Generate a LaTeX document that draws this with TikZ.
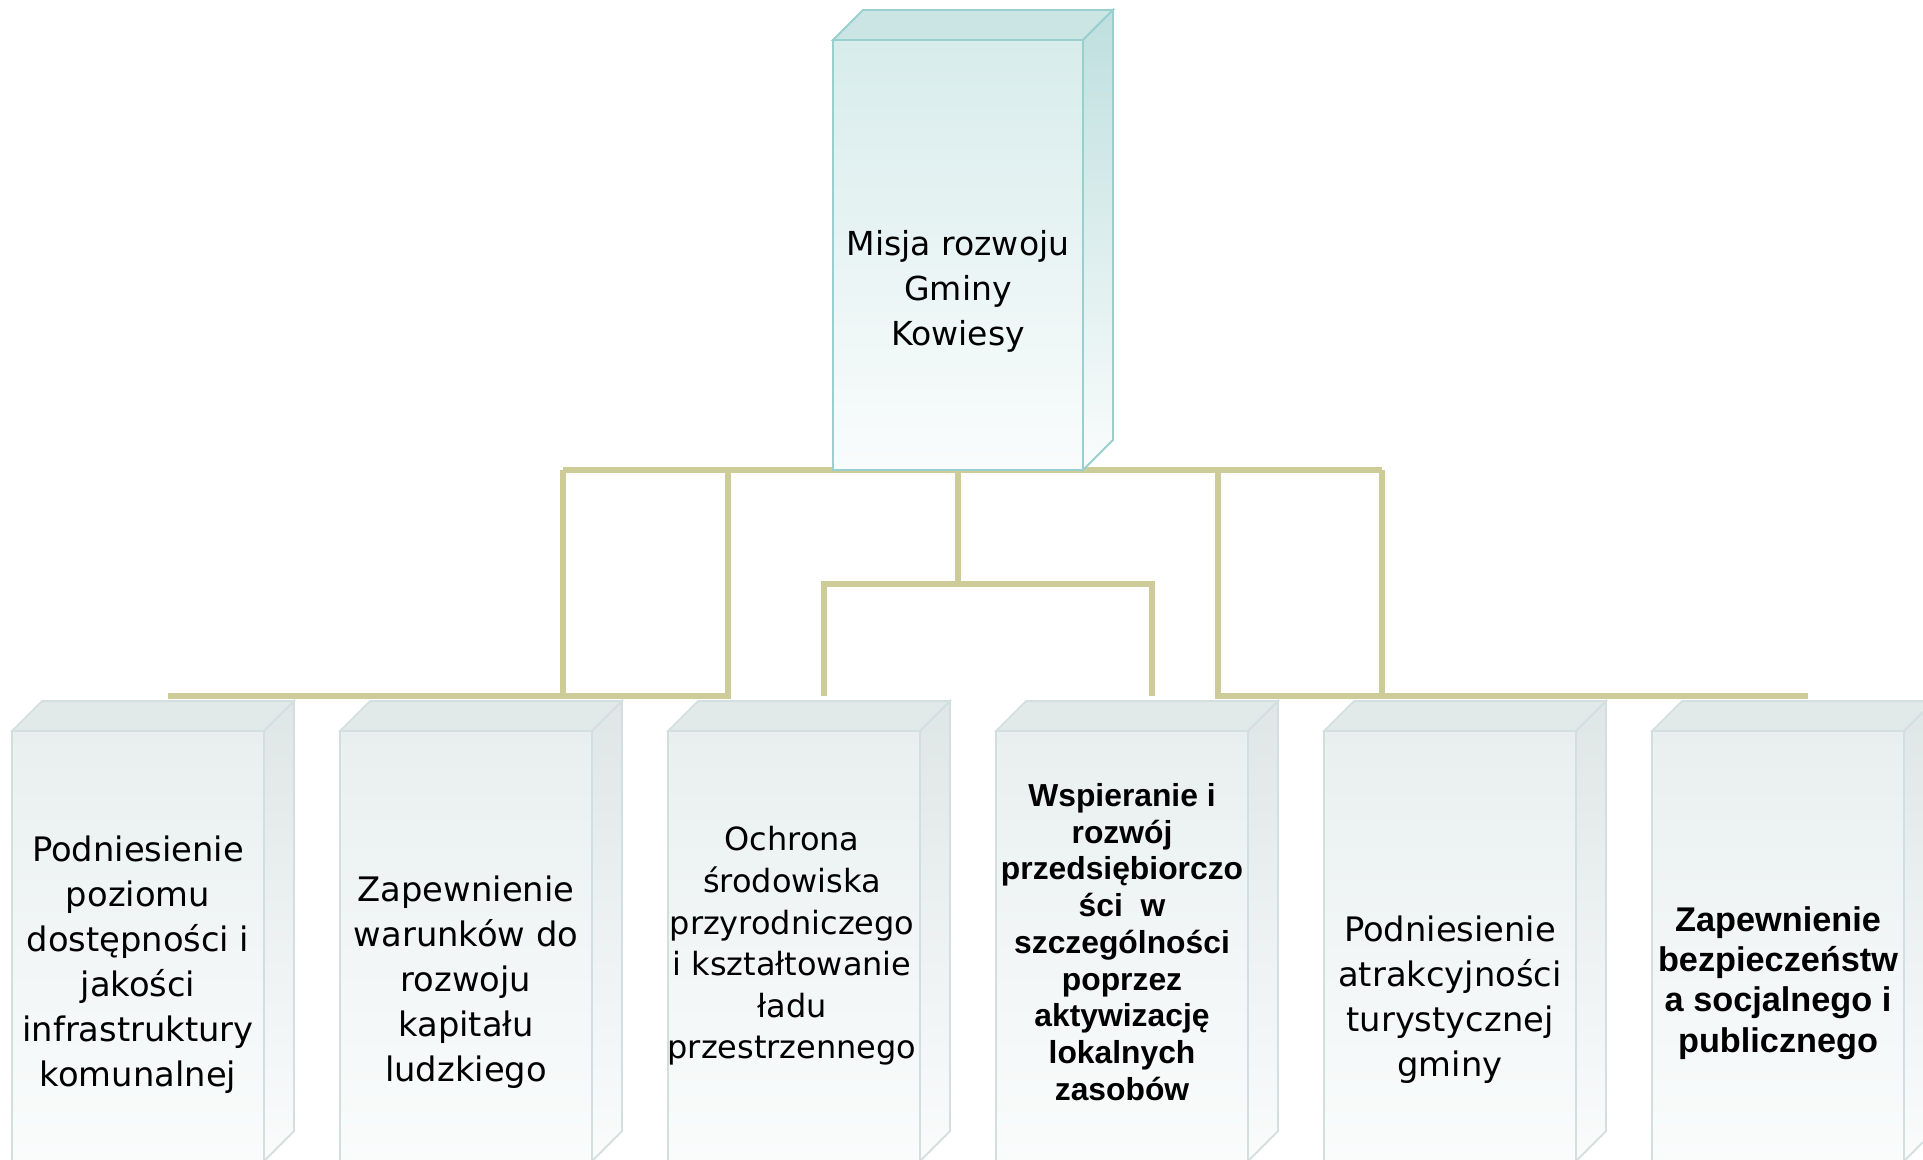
\documentclass[tikz,border=0pt]{standalone}
\usepackage{fontspec}
\setmainfont{DejaVu Sans}
\newfontfamily\arialfont{Liberation Sans}
\usetikzlibrary{positioning,calc,backgrounds}

\definecolor{busline}{RGB}{205,204,153}
\definecolor{misjaedge}{RGB}{154,207,207}
\definecolor{misjatop}{RGB}{203,229,229}
\definecolor{misjaside}{RGB}{191,223,223}
\definecolor{misjafront}{RGB}{216,236,236}
\definecolor{paleend}{RGB}{250,252,252}
\definecolor{celledge}{RGB}{211,223,223}
\definecolor{celltop}{RGB}{226,233,233}
\definecolor{cellside}{RGB}{223,230,230}
\definecolor{cellfront}{RGB}{233,239,239}

\tikzset{
  misjabox/.style={draw=misjaedge, line width=1.1pt, top color=misjafront, bottom color=paleend,
    minimum width=5cm, minimum height=8.6cm, inner sep=0pt, outer sep=0pt},
  cellbox/.style={draw=celledge, line width=1pt, top color=cellfront, bottom color=paleend,
    minimum width=5.04cm, minimum height=8.6cm, inner sep=0pt, outer sep=0pt},
  bus/.style={busline, line width=3.4pt},
  plain/.style={font=\fontsize{19.2pt}{25.6pt}\selectfont, align=center, inner sep=0pt},
  strong/.style={font=\arialfont\bfseries\fontsize{18.1pt}{20.9pt}\selectfont, align=center, inner sep=0pt}
}

\begin{document}
\begin{tikzpicture}
	\useasboundingbox (0,0) rectangle (38.46,23.18);
	\clip (0,0) rectangle (38.46,23.18);
	
	% Mission box
	\node[misjabox] (misja) at (19.16,18.08) {};
	\filldraw[misjatop, draw=misjaedge, line width=1.1pt] (misja.north west) -- ++(0.6,0.6) -- ($(misja.north east)+(0.6,0.6)$) -- (misja.north east) -- cycle;
	\shadedraw[top color=misjaside, bottom color=paleend, draw=misjaedge, line width=1.1pt] (misja.north east) -- ++(0.6,0.6) -- ++(0,-8.6) -- (misja.south east) -- cycle;
	\node[plain, font=\fontsize{18.8pt}{25.5pt}\selectfont] (misjatxt) at ([yshift=-0.73cm]misja.center) {Misja rozwoju\\Gminy\\Kowiesy};
	
	% Goal boxes
	\node[cellbox, anchor=north west] (c1) at (0.24,8.56) {};
	\node[cellbox, right=1.52cm of c1] (c2) {};
	\node[cellbox, right=1.52cm of c2] (c3) {};
	\node[cellbox, right=1.52cm of c3] (c4) {};
	\node[cellbox, right=1.52cm of c4] (c5) {};
	\node[cellbox, right=1.52cm of c5] (c6) {};
	\foreach \k in {1,...,6} {
		\filldraw[celltop, draw=celledge, line width=1pt] (c\k.north west) -- ++(0.6,0.6) -- ($(c\k.north east)+(0.6,0.6)$) -- (c\k.north east) -- cycle;
		\shadedraw[top color=cellside, bottom color=paleend, draw=celledge, line width=1pt] (c\k.north east) -- ++(0.6,0.6) -- ++(0,-8.6) -- (c\k.south east) -- cycle;
		\path (c\k.north) ++(0.6,0.7) coordinate (top\k); % where the bus meets the box
	}
	
	% Goal texts
	\node[plain] (t1) at ([yshift=-0.37cm]c1.center) {Podniesienie\\poziomu\\dostępności i\\jakości\\infrastruktury\\komunalnej};
	\node[plain] (t2) at ([yshift=-0.73cm]c2.center) {Zapewnienie\\warunków do\\rozwoju\\kapitału\\ludzkiego};
	\node[plain, font=\fontsize{18.2pt}{23.7pt}\selectfont] (t3) at ([xshift=-0.04cm]c3.center) {Ochrona\\środowiska\\przyrodniczego\\i kształtowanie\\ładu\\przestrzennego};
	\node[strong] (t4) at ([yshift=0.08cm]c4.center) {Wspieranie i\\rozwój\\przedsiębiorczo\\ści~ w\\szczególności\\poprzez\\aktywizację\\lokalnych\\zasobów};
	\node[plain] (t5) at ([yshift=-1.08cm]c5.center) {Podniesienie\\atrakcyjności\\turystycznej\\gminy};
	\node[strong, font=\arialfont\bfseries\fontsize{19.5pt}{23pt}\selectfont] (t6) at ([yshift=-0.74cm]c6.center) {Zapewnienie\\bezpieczeństw\\a socjalnego i\\publicznego};
	
	% Draw connectors
	\begin{scope}[on background layer]
		\coordinate (jL1) at (11.26,13.78);
		\coordinate (jL2) at (14.56,13.78);
		\coordinate (jR1) at (24.36,13.78);
		\coordinate (jR2) at (27.64,13.78);
		\coordinate (mid) at (19.16,11.5);
		\draw[bus] (jL1) -- (jR2);
		\draw[bus] (jL1) -- (jL1 |- top1);
		\draw[bus] (top1) -- (top1 -| jL2) -- (jL2);
		\draw[bus] (misja.south) -- (mid);
		\draw[bus] (top3) -- (top3 |- mid) -- (top4 |- mid) -- (top4);
		\draw[bus] (top6) -- (top6 -| jR1) -- (jR1);
		\draw[bus] (jR2) -- (jR2 |- top6);
	\end{scope}
\end{tikzpicture}
\end{document}
